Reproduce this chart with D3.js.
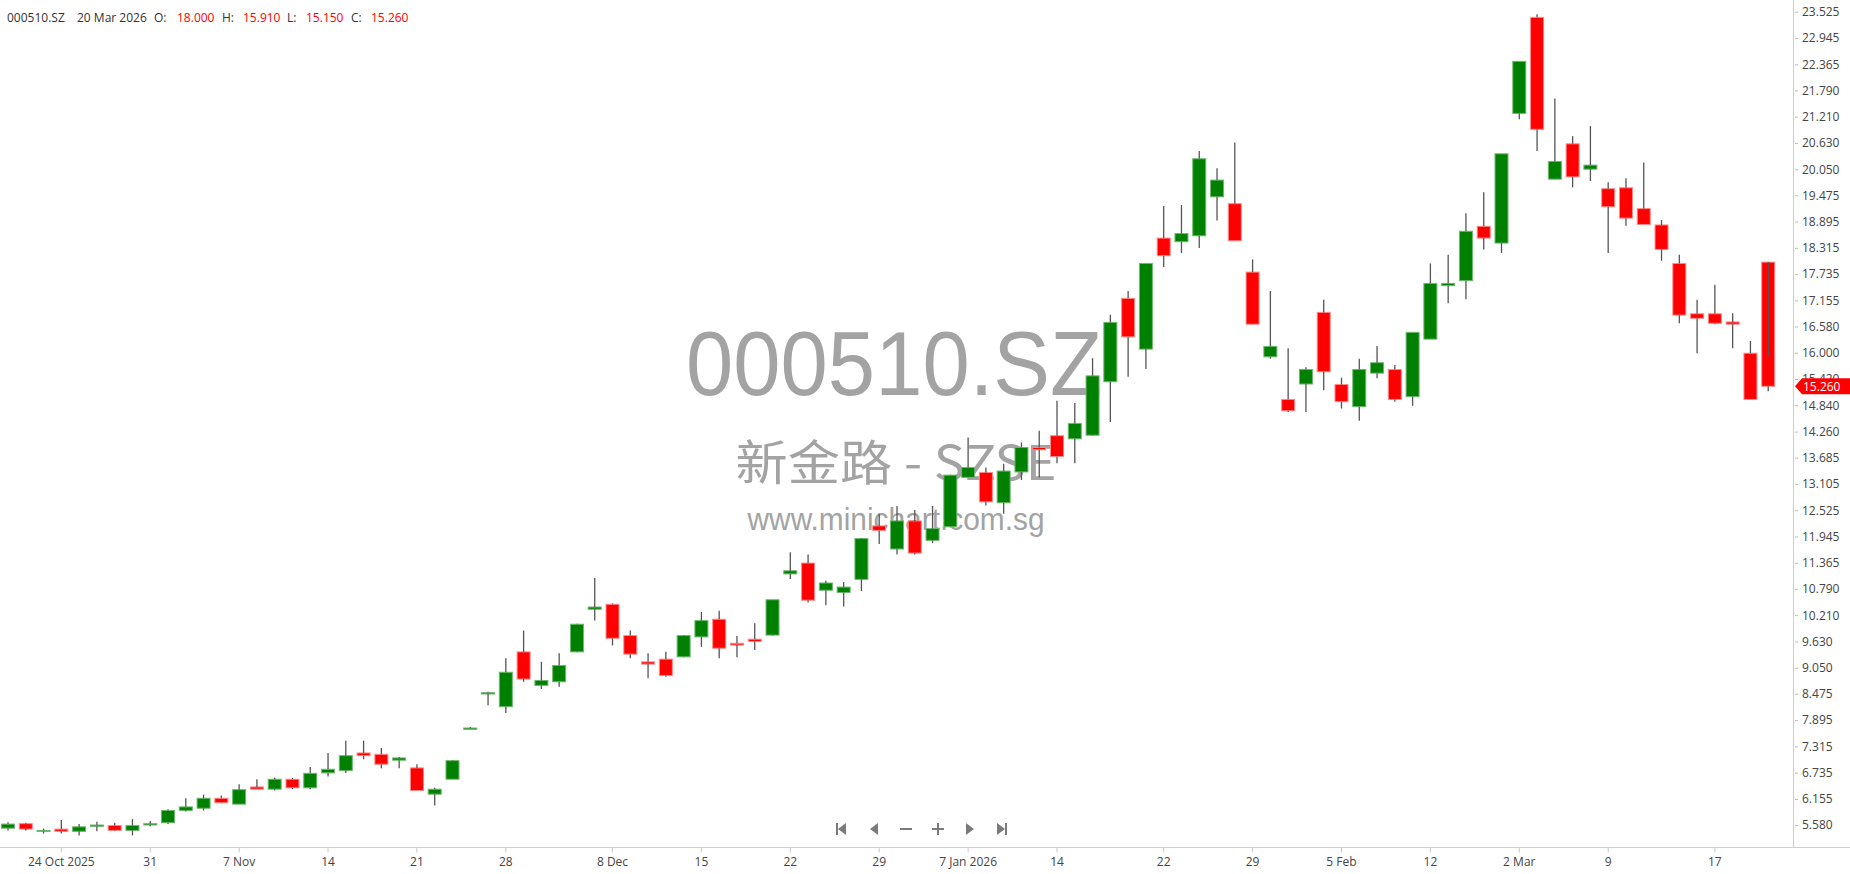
<!DOCTYPE html>
<html>
<head>
<meta charset="utf-8">
<script src="https://cdn.jsdelivr.net/npm/d3@7/dist/d3.min.js"></script>
<style>
body { margin: 0; background: #fff; }
svg { display: block; }
</style>
</head>
<body>
<svg id="chart" width="1850" height="874"></svg>
<script>
var symbol = "000510.SZ";
var nameLine = "新金路 - SZSE";
var site = "www.minichart.com.sg";

var dates = [
  "2025-10-21","2025-10-22","2025-10-23","2025-10-24","2025-10-27","2025-10-28","2025-10-29","2025-10-30","2025-10-31",
  "2025-11-03","2025-11-04","2025-11-05","2025-11-06","2025-11-07","2025-11-10","2025-11-11","2025-11-12","2025-11-13","2025-11-14",
  "2025-11-17","2025-11-18","2025-11-19","2025-11-20","2025-11-21","2025-11-24","2025-11-25","2025-11-26","2025-11-27","2025-11-28",
  "2025-12-01","2025-12-02","2025-12-03","2025-12-04","2025-12-05","2025-12-08","2025-12-09","2025-12-10","2025-12-11","2025-12-12",
  "2025-12-15","2025-12-16","2025-12-17","2025-12-18","2025-12-19","2025-12-22","2025-12-23","2025-12-24","2025-12-25","2025-12-26",
  "2025-12-29","2025-12-30","2025-12-31",
  "2026-01-05","2026-01-06","2026-01-07","2026-01-08","2026-01-09","2026-01-12","2026-01-13","2026-01-14","2026-01-15","2026-01-16",
  "2026-01-19","2026-01-20","2026-01-21","2026-01-22","2026-01-23","2026-01-26","2026-01-27","2026-01-28","2026-01-29","2026-01-30",
  "2026-02-02","2026-02-03","2026-02-04","2026-02-05","2026-02-06","2026-02-09","2026-02-10","2026-02-11","2026-02-12",
  "2026-02-24","2026-02-25","2026-02-26","2026-02-27",
  "2026-03-02","2026-03-03","2026-03-04","2026-03-05","2026-03-06","2026-03-09","2026-03-10","2026-03-11","2026-03-12","2026-03-13",
  "2026-03-16","2026-03-17","2026-03-18","2026-03-19","2026-03-20"
];

var open = [5.51,5.61,5.44,5.49,5.44,5.55,5.57,5.46,5.58,5.63,5.90,5.95,6.17,6.04,6.42,6.37,6.59,6.40,6.73,6.78,
  7.17,7.14,7.01,6.84,6.26,6.59,7.69,8.47,8.19,9.40,8.66,8.74,9.40,10.34,10.45,9.76,9.18,9.24,9.29,9.73,
  10.12,9.59,9.68,9.77,11.12,11.36,10.76,10.71,11.00,12.18,11.67,12.29,11.86,12.16,13.25,13.36,12.69,13.37,13.91,14.17,
  14.10,14.18,15.36,17.20,16.08,18.53,18.45,18.58,19.44,19.29,17.78,15.91,14.97,15.31,16.89,15.30,14.81,15.55,15.63,15.03,
  16.30,17.48,17.59,18.79,18.42,21.28,23.40,19.83,20.61,20.05,19.62,19.64,19.18,18.82,17.97,16.86,16.86,16.68,15.99,18.00];
var high = [5.64,5.63,5.50,5.69,5.60,5.65,5.63,5.71,5.67,5.93,6.17,6.25,6.23,6.48,6.59,6.62,6.62,6.86,7.17,7.44,
  7.44,7.28,7.08,6.92,6.40,7.01,7.74,8.52,9.26,9.87,9.18,9.37,10.02,11.03,10.47,9.87,9.37,9.40,9.77,10.28,
  10.31,9.75,10.03,10.55,11.60,11.55,10.97,10.94,11.91,12.45,12.62,12.53,12.62,13.31,14.13,13.47,13.55,14.02,14.28,14.94,
  14.89,15.88,16.84,17.36,17.97,19.24,19.26,20.45,20.07,20.64,18.06,17.36,16.10,15.68,17.17,15.45,15.87,16.15,15.73,16.45,
  17.97,18.16,19.08,19.54,20.39,22.43,23.47,21.61,20.78,21.00,19.76,19.85,20.20,18.93,18.16,17.17,17.50,16.87,16.26,15.91];
var low = [5.46,5.46,5.39,5.39,5.35,5.44,5.44,5.35,5.55,5.60,5.88,5.90,6.06,6.04,6.37,6.34,6.37,6.37,6.65,6.73,
  7.03,6.83,6.83,6.34,6.01,6.59,7.69,8.22,8.05,8.74,8.58,8.63,9.39,10.09,9.54,9.26,8.82,8.85,9.28,9.51,
  9.26,9.28,9.44,9.76,11.01,10.49,10.43,10.40,10.74,11.78,11.55,11.55,11.80,12.15,13.24,12.63,12.45,13.19,13.25,13.56,
  13.56,14.17,14.47,15.47,15.64,17.89,18.20,18.31,18.92,18.47,16.63,15.87,14.69,14.69,15.17,14.77,14.50,15.44,14.92,14.83,
  16.30,17.09,17.18,18.28,18.20,21.15,20.45,19.82,19.65,19.79,18.20,18.80,18.83,18.03,16.65,15.99,16.63,16.10,14.97,15.15];
var close = [5.60,5.49,5.46,5.44,5.54,5.58,5.46,5.57,5.61,5.90,5.98,6.17,6.07,6.36,6.37,6.59,6.40,6.72,6.81,7.11,
  7.11,6.92,7.06,6.34,6.37,7.00,7.72,8.50,8.95,8.80,8.77,9.10,10.01,10.39,9.70,9.35,9.13,8.88,9.76,10.09,
  9.48,9.55,9.63,10.55,11.19,10.54,10.92,10.83,11.90,12.08,12.29,11.58,12.12,13.30,13.47,12.71,13.39,13.91,13.86,13.71,
  14.44,15.49,16.67,16.35,17.97,18.14,18.63,20.28,19.81,18.47,16.63,16.14,14.72,15.63,15.58,14.92,15.63,15.78,14.97,16.45,
  17.53,17.53,18.68,18.53,20.39,22.43,20.93,20.22,19.88,20.14,19.22,18.97,18.83,18.28,16.83,16.76,16.65,16.63,14.97,15.26];

var yTicks = [5.580,6.155,6.735,7.315,7.895,8.475,9.050,9.630,10.210,10.790,11.365,11.945,12.525,13.105,13.685,14.260,
  14.840,15.420,16.000,16.580,17.155,17.735,18.315,18.895,19.475,20.050,20.630,21.210,21.790,22.365,22.945,23.525];

var xTickDates = ["2025-10-24","2025-10-31","2025-11-07","2025-11-14","2025-11-21","2025-11-28","2025-12-08","2025-12-15",
  "2025-12-22","2025-12-29","2026-01-07","2026-01-14","2026-01-22","2026-01-29","2026-02-05","2026-02-12","2026-03-02",
  "2026-03-09","2026-03-17"];
var xTickLabels = ["24 Oct 2025","31","7 Nov","14","21","28","8 Dec","15","22","29","7 Jan 2026","14","22","29",
  "5 Feb","12","2 Mar","9","17"];

var svg = d3.select("#chart"),
    width = +svg.attr("width"),
    height = +svg.attr("height"),
    axisX = 1793,
    axisY = 847;

var x = d3.scaleBand().domain(dates).range([-0.9, 1777.1]).padding(0);
var y = d3.scaleLinear().domain([5.58, 23.525]).range([825, 11.7]);
var cx = function(i) { return x(dates[i]) + x.bandwidth() / 2; };
var bodyW = 13;

// watermark
var wm = svg.append("g").attr("fill", "#a3a3a3").attr("text-anchor", "middle");
wm.append("text").attr("x", 894).attr("y", 395)
  .attr("font-family", "Liberation Sans, Arial, sans-serif").attr("font-size", 90)
  .attr("textLength", 416).attr("lengthAdjust", "spacingAndGlyphs").text(symbol);
wm.append("text").attr("x", 896).attr("y", 480)
  .attr("font-family", "Noto Sans CJK SC, sans-serif").attr("font-size", 48)
  .attr("textLength", 321).attr("lengthAdjust", "spacingAndGlyphs").text(nameLine);
wm.append("text").attr("x", 896).attr("y", 530)
  .attr("font-family", "Liberation Sans, Arial, sans-serif").attr("font-size", 31)
  .attr("textLength", 297).attr("lengthAdjust", "spacingAndGlyphs").text(site);

// candles
var idx = d3.range(dates.length);
var candles = svg.append("g");

candles.selectAll("rect.body")
  .data(idx)
  .enter().append("rect")
  .attr("class", "body")
  .attr("x", function(i) { return cx(i) - bodyW / 2; })
  .attr("width", bodyW)
  .attr("y", function(i) { return y(Math.max(open[i], close[i])); })
  .attr("height", function(i) { return Math.max(1, Math.abs(y(open[i]) - y(close[i]))); })
  .attr("fill", function(i) { return close[i] >= open[i] ? "#008000" : "#ff0000"; })
  .attr("stroke", function(i) { return close[i] >= open[i] ? "#6fb86f" : "#ff8a8a"; })
  .attr("stroke-width", 1);

// upper and lower wick segments
candles.selectAll("line.up")
  .data(idx)
  .enter().append("line")
  .attr("class", "up")
  .attr("x1", cx).attr("x2", cx)
  .attr("y1", function(i) { return y(high[i]); })
  .attr("y2", function(i) { return y(Math.max(open[i], close[i])); })
  .attr("stroke", "#555").attr("stroke-width", 1.3);

candles.selectAll("line.dn")
  .data(idx)
  .enter().append("line")
  .attr("class", "dn")
  .attr("x1", cx).attr("x2", cx)
  .attr("y1", function(i) { return y(Math.min(open[i], close[i])); })
  .attr("y2", function(i) { return y(low[i]); })
  .attr("stroke", "#555").attr("stroke-width", 1.3);

// axes
svg.append("line").attr("x1", 0).attr("x2", width).attr("y1", axisY + 0.5).attr("y2", axisY + 0.5)
  .attr("stroke", "#cfcfcf");
svg.append("line").attr("x1", axisX + 0.5).attr("x2", axisX + 0.5).attr("y1", 0).attr("y2", axisY)
  .attr("stroke", "#cfcfcf");

var yAxis = svg.append("g")
  .attr("transform", "translate(" + axisX + ",0)")
  .call(d3.axisRight(y).tickValues(yTicks).tickFormat(d3.format(".3f")).tickSize(0).tickPadding(9));
yAxis.select(".domain").remove();
yAxis.selectAll(".tick line").attr("x1", 2).attr("x2", 5).attr("stroke", "#bbb");
yAxis.selectAll("text").attr("fill", "#444").attr("font-family", "Open Sans, sans-serif").attr("font-size", 12);

var xAxis = svg.append("g")
  .attr("transform", "translate(0," + (axisY + 0.5) + ")")
  .call(d3.axisBottom(x).tickValues(xTickDates)
    .tickFormat(function(d, i) { return xTickLabels[i]; }).tickSize(5).tickPadding(5));
xAxis.select(".domain").remove();
xAxis.selectAll(".tick line").attr("stroke", "#c8c8c8");
xAxis.selectAll("text").attr("fill", "#444").attr("font-family", "Open Sans, sans-serif").attr("font-size", 12);

// last price tag
var last = dates.length - 1;
var ly = y(close[last]);
svg.append("path")
  .attr("d", "M" + (axisX + 2) + "," + ly + "L" + (axisX + 9) + "," + (ly - 8) + "L" + width + "," + (ly - 8) +
    "L" + width + "," + (ly + 8) + "L" + (axisX + 9) + "," + (ly + 8) + "Z")
  .attr("fill", "#ff0000");
svg.append("text").attr("x", axisX + 10).attr("y", ly + 4.5)
  .attr("fill", "#fff").attr("font-family", "Open Sans, sans-serif").attr("font-size", 12)
  .text(close[last].toFixed(3));

// header
var fmtDate = d3.timeFormat("%-d %b %Y"), parse = d3.timeParse("%Y-%m-%d");
var header = [
  { t: symbol, x: 7, c: "#333" },
  { t: fmtDate(parse(dates[last])), x: 77, c: "#333" },
  { t: "O:", x: 154, c: "#333" }, { t: open[last].toFixed(3), x: 177, c: "#ff0000" },
  { t: "H:", x: 222, c: "#333" }, { t: high[last].toFixed(3), x: 243, c: "#ff0000" },
  { t: "L:", x: 287, c: "#333" }, { t: low[last].toFixed(3), x: 306, c: "#ff0000" },
  { t: "C:", x: 351, c: "#333" }, { t: close[last].toFixed(3), x: 371, c: "#ff0000" }
];
svg.append("g").selectAll("text")
  .data(header)
  .enter().append("text")
  .attr("x", function(d) { return d.x; })
  .attr("y", 22)
  .attr("fill", function(d) { return d.c; })
  .attr("font-family", "Open Sans, sans-serif").attr("font-size", 12)
  .text(function(d) { return d.t; });

// navigation buttons
var nav = svg.append("g").attr("fill", "#7a7a7a").attr("stroke", "none");
var ny = 829;
var navX = [841, 874, 906, 938, 970, 1002];
nav.append("rect").attr("x", navX[0] - 5).attr("y", ny - 6).attr("width", 2).attr("height", 12);
nav.append("path").attr("d", "M" + (navX[0] - 3) + "," + ny + "L" + (navX[0] + 5) + "," + (ny - 6) + "L" + (navX[0] + 5) + "," + (ny + 6) + "Z");
nav.append("path").attr("d", "M" + (navX[1] - 4) + "," + ny + "L" + (navX[1] + 4) + "," + (ny - 6) + "L" + (navX[1] + 4) + "," + (ny + 6) + "Z");
nav.append("rect").attr("x", navX[2] - 6).attr("y", ny - 1).attr("width", 12).attr("height", 2);
nav.append("rect").attr("x", navX[3] - 6).attr("y", ny - 1).attr("width", 12).attr("height", 2);
nav.append("rect").attr("x", navX[3] - 1).attr("y", ny - 6).attr("width", 2).attr("height", 12);
nav.append("path").attr("d", "M" + (navX[4] + 4) + "," + ny + "L" + (navX[4] - 4) + "," + (ny - 6) + "L" + (navX[4] - 4) + "," + (ny + 6) + "Z");
nav.append("path").attr("d", "M" + (navX[5] + 3) + "," + ny + "L" + (navX[5] - 5) + "," + (ny - 6) + "L" + (navX[5] - 5) + "," + (ny + 6) + "Z");
nav.append("rect").attr("x", navX[5] + 3).attr("y", ny - 6).attr("width", 2).attr("height", 12);
</script>
</body>
</html>
